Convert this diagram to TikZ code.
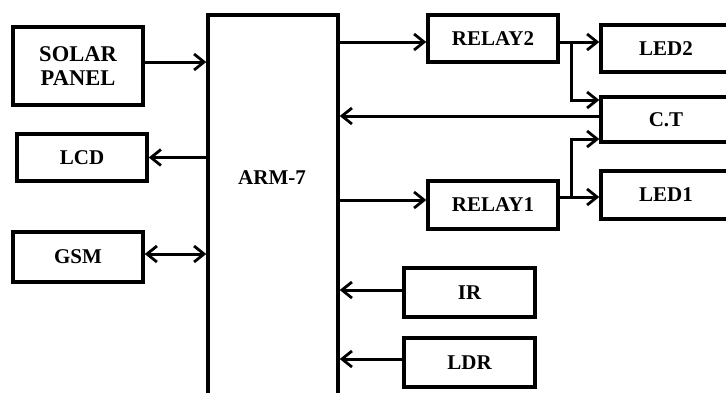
\documentclass[tikz,border=0pt]{standalone}
\usepackage{fontspec}
\setmainfont{Liberation Serif}
\usetikzlibrary{arrows.meta}
\begin{document}
\begin{tikzpicture}[x=1pt,y=-1pt,
  lbl/.style={font=\fontsize{21}{24}\selectfont\bfseries},
  blk/.style={draw=black,line width=3.4pt,minimum width=130pt,inner sep=0pt,
    lbl,align=center},
  wire/.style={line width=3pt,-{Straight Barb[length=10pt,width=16pt,line width=2.8pt]}},
  wire2/.style={line width=3pt,{Straight Barb[length=10pt,width=16pt,line width=2.8pt]}-{Straight Barb[length=10pt,width=16pt,line width=2.8pt]}},
  plain/.style={line width=3pt}]
\useasboundingbox (0,0) rectangle (726,392);
\clip (0,0) rectangle (726,392);
\fill[white] (0,0) rectangle (726,392);

% left column
\node[blk,minimum height=78pt,font=\fontsize{22.5}{24}\selectfont\bfseries] (solar) at (78,66) {SOLAR\\PANEL};
\node[blk,minimum height=47pt] (lcd) at (82,157.5) {LCD};
\node[blk,minimum height=50pt] (gsm) at (78,257) {GSM};

% controller
\node[blk,minimum height=405pt] (arm) at (273,217.5) {};
\node[lbl] (armlabel) at (272,178) {ARM-7};

% relays and loads
\node[blk,minimum height=47pt] (relay2) at (493,38.5) {RELAY2};
\node[blk,minimum height=47pt] (led2) at (666,48.5) {LED2};
\node[blk,minimum height=45pt] (ct) at (666,119.5) {C.T};
\node[blk,minimum height=48pt] (relay1) at (493,205) {RELAY1};
\node[blk,minimum height=48pt] (led1) at (666,195) {LED1};

% sensors
\node[blk,minimum width=131pt,minimum height=49pt] (ir) at (469.5,292.5) {IR};
\node[blk,minimum width=131pt,minimum height=49pt] (ldr) at (469.5,362.5) {LDR};

% branch points and signal levels
\coordinate (b2) at (571,42);
\coordinate (b1) at (571,197);
\coordinate (r1) at (0,200);
\coordinate (t2) at (0,100);
\coordinate (t1) at (0,139);

% left side links
\draw[wire] ([yshift=4pt]solar.east) -- ([yshift=4pt]solar.east -| arm.west);
\draw[wire] (lcd.east -| arm.west) -- (lcd.east);
\draw[wire2] ([yshift=3pt]gsm.east) -- ([yshift=3pt]gsm.east -| arm.west);

% relay 2 path
\draw[wire] (arm.east |- b2) -- (relay2.west |- b2);
\draw[plain] (relay2.east |- b2) -- (b2);
\draw[wire] (b2) -- (led2.west |- b2);
\draw[wire] (b2) |- (ct.west |- t2);
% current sensor feedback
\draw[wire] ([yshift=3.5pt]ct.west) -- ([yshift=3.5pt]ct.west -| arm.east);

% relay 1 path
\draw[wire] (arm.east |- r1) -- (relay1.west |- r1);
\draw[plain] (relay1.east |- b1) -- (b1);
\draw[wire] (b1) -- (led1.west |- b1);
\draw[wire] (b1) |- (ct.west |- t1);

% sensor inputs
\draw[wire] ([yshift=2.5pt]ir.west) -- ([yshift=2.5pt]ir.west -| arm.east);
\draw[wire] ([yshift=3.5pt]ldr.west) -- ([yshift=3.5pt]ldr.west -| arm.east);
\end{tikzpicture}
\end{document}
